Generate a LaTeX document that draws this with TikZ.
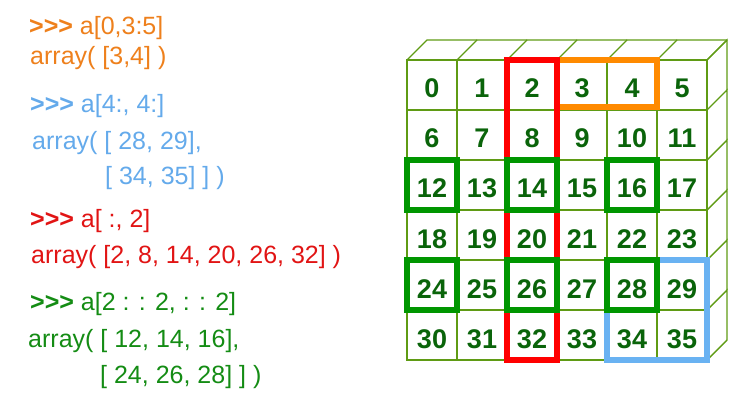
\documentclass[tikz,border=0pt]{standalone}
\usepackage{fontspec}
\setmainfont{Liberation Sans}
\definecolor{gridgreen}{RGB}{95,155,20}
\definecolor{numgreen}{RGB}{10,100,10}
\definecolor{orangetxt}{RGB}{238,128,28}
\definecolor{orangebox}{RGB}{255,138,0}
\definecolor{bluetxt}{RGB}{100,170,235}
\definecolor{bluebox}{RGB}{105,178,242}
\definecolor{redtxt}{RGB}{225,20,20}
\definecolor{redbox}{RGB}{255,0,0}
\definecolor{greentxt}{RGB}{20,140,20}
\definecolor{greenbox}{RGB}{0,150,0}
\tikzset{
  cell/.style={draw=gridgreen, line width=1.4pt, minimum width=50pt, minimum height=50pt,
    inner sep=0pt, outer sep=0pt, text=numgreen, text height=26pt, text depth=0pt,
    font=\fontsize{27}{27}\selectfont\bfseries},
  edge/.style={draw=gridgreen, line width=1.4pt},
  code/.style={anchor=base west, inner sep=0pt, font=\fontsize{25}{25}\selectfont},
  pick/.style={line width=5.5pt},
}
\begin{document}
\begin{tikzpicture}[x=1pt,y=-1pt]
\useasboundingbox (0,0) rectangle (738,403);

\foreach \r in {0,...,5}
  \foreach \c in {0,...,5} {
    \pgfmathtruncatemacro\n{6*\r+\c}
    \node [cell] (c\n) at (432+50*\c, 85+50*\r) {\n};
  }

\foreach \c in {0,...,5}
  \draw [edge] (c\c.north west) -- ++(20,-20) -- ++(50,0) ;
\draw [edge] (c5.north east) -- ++(20,-20) ;
\foreach \r in {0,...,5} {
  \pgfmathtruncatemacro\n{6*\r+5}
  \draw [edge] (c\n.north east) -- ++(20,-20) -- ++(0,50) ;
}
\draw [edge] (c35.south east) -- ++(20,-20) ;

\draw [pick, bluebox]   (c28.north west) rectangle (c35.south east) ;
\draw [pick, orangebox] (c3.north west) rectangle ([yshift=3pt]c4.south east) ;
\draw [pick, redbox]    (c2.north west) rectangle (c32.south east) ;
\foreach \n in {12,14,16,24,26,28}
  \draw [pick, greenbox] (c\n.north west) rectangle (c\n.south east) ;

\node [code, text=orangetxt] (orange1) at (29,35)  {\textbf{>{}>{}>} a[0,3:5]};
\node [code, text=orangetxt] (orange2) at (30,65)  {array( [3,4] )};

\node [code, text=bluetxt] (blue1) at (30,113) {\textbf{>{}>{}>} a[4:, 4:]};
\node [code, text=bluetxt] (blue2) at (32,150) {array( [ 28, 29],};
\node [code, text=bluetxt] (blue3) at (105,185) {[ 34, 35] ] )};

\node [code, text=redtxt] (red1) at (30,228) {\textbf{>{}>{}>} a[ :, 2]};
\node [code, text=redtxt] (red2) at (31,263) {array( [2, 8, 14, 20, 26, 32] )};

\node [code, text=greentxt] (green1) at (30,310) {\textbf{>{}>{}>} a[2 : : 2, : : 2]};
\node [code, text=greentxt] (green2) at (28,347) {array( [ 12, 14, 16],};
\node [code, text=greentxt] (green3) at (100,383) {[ 24, 26, 28] ] )};

\end{tikzpicture}
\end{document}
